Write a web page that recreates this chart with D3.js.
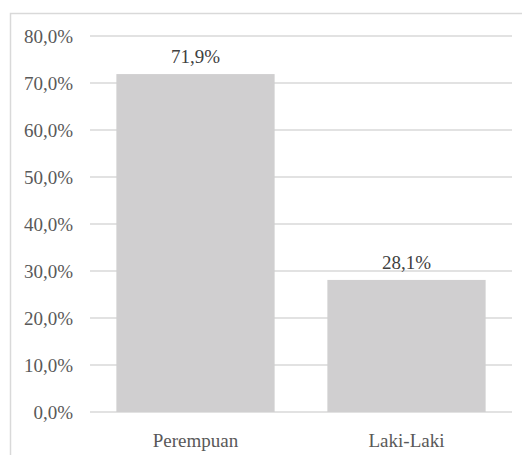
<!DOCTYPE html>
<html>
<head>
<meta charset="utf-8">
<script src="https://cdn.jsdelivr.net/npm/d3@7"></script>
<style>
  body { margin: 0; background: #fff; }
</style>
</head>
<body>
<div id="chart"></div>
<script>
/* Data */
var categories = ["Perempuan", "Laki-Laki"];
var values = [71.9, 28.1];
var yTicks = [0, 10, 20, 30, 40, 50, 60, 70, 80];

var W = 522, H = 455;
var margin = { top: 36, left: 90, right: 10, bottom: 43 };

var svg = d3.select("#chart").append("svg")
    .attr("width", W)
    .attr("height", H);

/* chart border */
svg.append("rect")
    .attr("x", 10.5)
    .attr("y", 13.5)
    .attr("width", W)
    .attr("height", H)
    .attr("fill", "none")
    .attr("stroke", "#d9d9d9")
    .attr("stroke-width", 1.5);

var x = d3.scaleBand()
    .domain(categories)
    .range([margin.left, W - margin.right])
    .paddingInner(0.25)
    .paddingOuter(0.125);

var y = d3.scaleLinear()
    .domain([0, 80])
    .range([H - margin.bottom, margin.top]);

function fmt(v) { return v.toFixed(1).replace(".", ",") + "%"; }

function label(g, tx, ty, anchor, color, txt) {
    g.append("text")
        .attr("x", tx)
        .attr("y", ty)
        .attr("text-anchor", anchor)
        .attr("dy", "0.35em")
        .style("font-family", "Liberation Serif")
        .attr("font-size", "19")
        .attr("fill", color)
        .text(txt);
}

/* gridlines */
svg.append("g")
    .selectAll("line")
    .data(yTicks)
    .enter().append("line")
    .attr("x1", margin.left)
    .attr("x2", W - margin.right)
    .attr("y1", function(d) { return y(d); })
    .attr("y2", function(d) { return y(d); })
    .attr("stroke", "#d9d9d9")
    .attr("stroke-width", 1.5);

/* y axis labels */
var yLabels = svg.append("g");
yTicks.forEach(function(t) {
    label(yLabels, margin.left - 17, y(t), "end", "#595959", fmt(t));
});

/* bars */
svg.append("g")
    .selectAll("rect")
    .data(values)
    .enter().append("rect")
    .attr("x", function(d, i) { return x(categories[i]); })
    .attr("y", function(d) { return y(d); })
    .attr("width", x.bandwidth())
    .attr("height", function(d) { return y(0) - y(d); })
    .attr("fill", "#d0cfd0");

/* value labels */
var vLabels = svg.append("g");
values.forEach(function(v, i) {
    label(vLabels, x(categories[i]) + x.bandwidth() / 2, y(v) - 18, "middle", "#404040", fmt(v));
});

/* x axis labels */
var xLabels = svg.append("g");
categories.forEach(function(c) {
    label(xLabels, x(c) + x.bandwidth() / 2, y(0) + 28, "middle", "#595959", c);
});
</script>
</body>
</html>
